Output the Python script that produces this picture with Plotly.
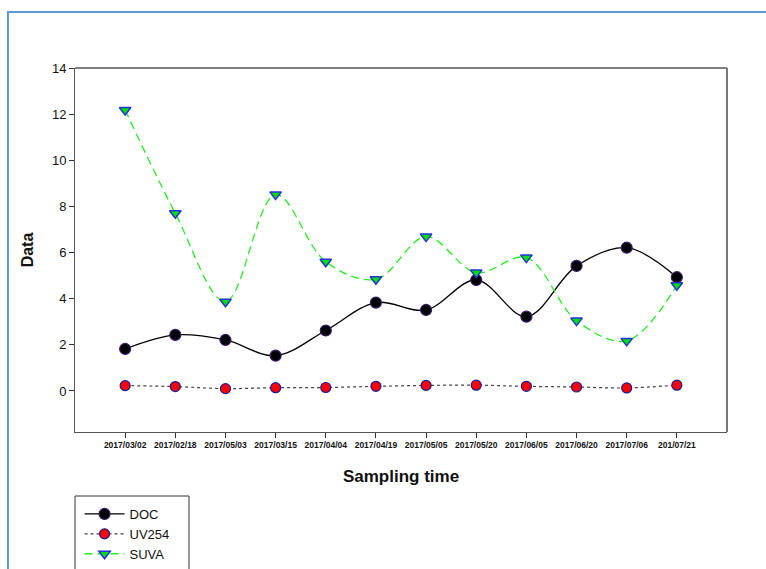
import plotly.graph_objects as go

dates = ["2017/03/02", "2017/02/18", "2017/05/03", "2017/03/15", "2017/04/04", "2017/04/19",
         "2017/05/05", "2017/05/20", "2017/06/05", "2017/06/20", "2017/07/06", "201/07/21"]
doc = [1.82, 2.43, 2.21, 1.53, 2.62, 3.83, 3.51, 4.81, 3.22, 5.42, 6.21, 4.93]
uv254 = [0.23, 0.19, 0.10, 0.14, 0.15, 0.20, 0.24, 0.25, 0.20, 0.17, 0.13, 0.25]
suva = [12.18, 7.70, 3.87, 8.52, 5.60, 4.84, 6.69, 5.13, 5.78, 3.05, 2.17, 4.58]

FONT = "Arial, 'Liberation Sans', sans-serif"

fig = go.Figure()
fig.add_trace(go.Scatter(
    x=dates, y=doc, name="DOC", mode="lines+markers",
    line=dict(color="black", width=1.3, shape="spline", smoothing=1),
    marker=dict(symbol="circle", size=11, color="black", line=dict(color="#3a1a6a", width=1.2)),
))
fig.add_trace(go.Scatter(
    x=dates, y=uv254, name="UV254", mode="lines+markers",
    line=dict(color="#444444", width=1.2, dash="dot", shape="spline", smoothing=1),
    marker=dict(symbol="circle", size=10, color="#ff0000", line=dict(color="#1a1a9a", width=1.2)),
))
fig.add_trace(go.Scatter(
    x=dates, y=suva, name="SUVA", mode="lines+markers",
    line=dict(color="#22ee22", width=1.3, dash="8px,5px", shape="spline", smoothing=1),
    marker=dict(symbol="triangle-down", size=10, color="#00e000", line=dict(color="#2233dd", width=1.5)),
))

shapes = [
    # outer blue frame
    dict(type="rect", xref="paper", yref="paper", x0=-0.1028, x1=2, y0=-1, y1=1.1538,
         line=dict(color="#5b9bd5", width=2), fillcolor="rgba(0,0,0,0)", layer="below"),
    # top border black
    dict(type="line", xref="paper", yref="paper", x0=0, x1=1, y0=1, y1=1,
         line=dict(color="black", width=1)),
    # right border gray thicker
    dict(type="line", xref="paper", yref="paper", x0=1, x1=1, y0=0, y1=1,
         line=dict(color="#777777", width=2)),
    # legend box
    dict(type="rect", xref="paper", yref="paper", x0=0, x1=(189 - 75) / 652,
         y0=-1, y1=(432 - 496) / 364,
         line=dict(color="#333333", width=1), fillcolor="rgba(0,0,0,0)"),
]

fig.update_layout(
    width=766, height=569,
    margin=dict(l=75, r=39, t=68, b=137, autoexpand=False),
    paper_bgcolor="white", plot_bgcolor="white",
    font=dict(family=FONT, color="#111111"),
    showlegend=True,
    legend=dict(x=0.007, xanchor="left", y=(432 - 499) / 364, yanchor="top",
                bgcolor="rgba(0,0,0,0)", borderwidth=0,
                font=dict(family=FONT, size=13, color="#111111"),
                tracegroupgap=0, itemwidth=40),
    shapes=shapes,
    xaxis=dict(
        type="category", range=[-1, 12],
        showgrid=False, zeroline=False,
        showline=True, linecolor="#555555", linewidth=1,
        ticks="outside", ticklen=5, tickcolor="#333333",
        tickfont=dict(family=FONT, size=8.5, color="#111111", weight="bold"),
        tickangle=0,
        title=dict(text="<b>Sampling time</b>", font=dict(family=FONT, size=17, color="#111111"), standoff=20),
    ),
    yaxis=dict(
        range=[-1.78, 14], tickvals=[0, 2, 4, 6, 8, 10, 12, 14],
        showgrid=False, zeroline=False,
        showline=True, linecolor="#555555", linewidth=1,
        ticks="outside", ticklen=5, tickcolor="#333333",
        tickfont=dict(family=FONT, size=13, color="#111111"),
        title=dict(text="<b>Data</b>", font=dict(family=FONT, size=16, color="#111111"), standoff=14),
    ),
)

fig.write_html("out.html", config={"displayModeBar": False},
               post_script="document.body.style.margin='0px';document.body.style.overflow='hidden';")
